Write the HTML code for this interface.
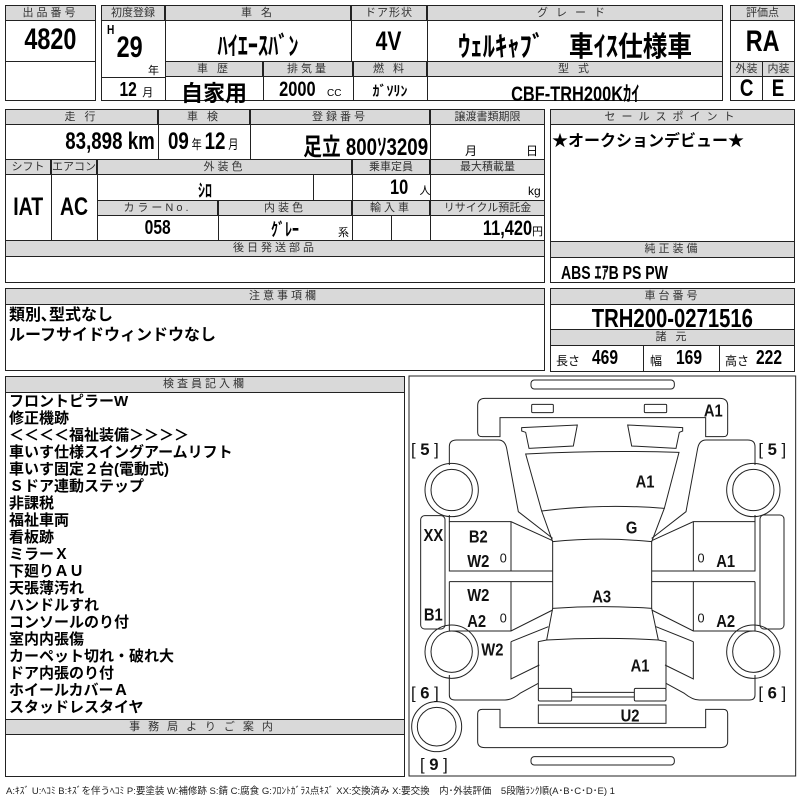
<!DOCTYPE html>
<html><head><meta charset="utf-8">
<style>
*{margin:0;padding:0;box-sizing:border-box}
body{width:800px;height:800px;background:#fff;position:relative;overflow:hidden;font-family:"Liberation Sans","Noto Sans CJK JP",sans-serif;color:#000}
.b{position:absolute;border:1px solid #222}
.h{position:absolute;background:#d9d9d9;border:1px solid #222;font-size:11px;text-align:center;line-height:14px;letter-spacing:3px;color:#333;font-family:"Liberation Sans","Noto Sans CJK JP",sans-serif}
.t{position:absolute;font-weight:bold;white-space:nowrap;text-align:center}
.n{display:inline-block;transform:scaleX(.78);transform-origin:center}
.r{transform-origin:right}
.l{transform-origin:left}
.j{font-family:"Liberation Sans","Noto Sans CJK JP",sans-serif}
.list{position:absolute;left:9px;top:393px;font-family:"Liberation Sans","Noto Sans CJK JP",sans-serif;font-weight:bold;font-size:15px;line-height:17px;white-space:nowrap}
</style></head><body>

<!-- Box A -->
<div class="b" style="left:5px;top:5px;width:91px;height:96px"></div>
<div class="h" style="left:5px;top:5px;width:91px;height:16px">出品番号</div>
<div class="b" style="left:5px;top:61px;width:91px;height:1px;border-width:1px 0 0 0"></div>
<div class="t" style="left:5px;top:23px;width:91px;font-size:30px"><span class="n">4820</span></div>

<!-- Box B -->
<div class="b" style="left:101px;top:5px;width:622px;height:96px"></div>
<div class="h" style="left:101px;top:5px;width:64px;height:16px;letter-spacing:0">初度登録</div>
<div class="h" style="left:165px;top:5px;width:186px;height:16px">車 名</div>
<div class="h" style="left:351px;top:5px;width:76px;height:16px;letter-spacing:1px">ドア形状</div>
<div class="h" style="left:427px;top:5px;width:296px;height:16px;letter-spacing:8px">グレード</div>
<div class="b" style="left:165px;top:20px;width:1px;height:81px;border-width:0 0 0 1px"></div>
<div class="b" style="left:351px;top:20px;width:1px;height:42px;border-width:0 0 0 1px"></div>
<div class="b" style="left:427px;top:20px;width:1px;height:81px;border-width:0 0 0 1px"></div>
<div class="b" style="left:101px;top:77px;width:64px;height:1px;border-width:1px 0 0 0"></div>
<div class="h" style="left:165px;top:61px;width:98px;height:16px">車 歴</div>
<div class="h" style="left:263px;top:61px;width:90px;height:16px">排気量</div>
<div class="h" style="left:353px;top:61px;width:74px;height:16px">燃 料</div>
<div class="h" style="left:427px;top:61px;width:296px;height:16px">型 式</div>
<div class="b" style="left:263px;top:77px;width:1px;height:24px;border-width:0 0 0 1px"></div>
<div class="b" style="left:353px;top:77px;width:1px;height:24px;border-width:0 0 0 1px"></div>
<div class="t" style="left:106px;top:22px;font-size:13px"><span class="n">H</span></div>
<div class="t" style="left:113px;top:31px;font-size:30px"><span class="n">29</span></div>
<div class="t j" style="left:148px;top:62px;font-size:11px;font-weight:normal">年</div>
<div class="t" style="left:117px;top:79px;font-size:20px"><span class="n">12</span><span class="j" style="font-size:11px;font-weight:normal"> 月</span></div>
<div class="t j" style="left:165px;top:26px;width:186px;font-size:26px"><span class="n">ﾊｲｴｰｽﾊﾞﾝ</span></div>
<div class="t" style="left:351px;top:26px;width:76px;font-size:27px"><span class="n">4V</span></div>
<div class="t j" style="left:427px;top:25px;width:296px;font-size:28px"><span class="n" style="transform:scaleX(.88)">ｳｪﾙｷｬﾌﾞ　車ｲｽ仕様車</span></div>
<div class="t j" style="left:165px;top:76px;width:98px;font-size:22px">自家用</div>
<div class="t" style="left:263px;top:78px;width:90px;font-size:21px"><span class="n">2000</span> <span style="font-size:10px;font-weight:normal">CC</span></div>
<div class="t j" style="left:353px;top:81px;width:74px;font-size:14px">ｶﾞｿﾘﾝ</div>
<div class="t j" style="left:427px;top:78px;width:296px;font-size:21px"><span class="n">CBF-TRH200Kｶｲ</span></div>

<!-- Box C -->
<div class="b" style="left:730px;top:5px;width:65px;height:96px"></div>
<div class="h" style="left:730px;top:5px;width:65px;height:16px;letter-spacing:0">評価点</div>
<div class="t" style="left:730px;top:25px;width:65px;font-size:30px"><span class="n">RA</span></div>
<div class="h" style="left:730px;top:61px;width:33px;height:16px;letter-spacing:0">外装</div>
<div class="h" style="left:762px;top:61px;width:33px;height:16px;letter-spacing:0">内装</div>
<div class="b" style="left:762px;top:77px;width:1px;height:24px;border-width:0 0 0 1px"></div>
<div class="t" style="left:730px;top:75px;width:33px;font-size:24px"><span class="n">C</span></div>
<div class="t" style="left:762px;top:75px;width:33px;font-size:24px"><span class="n">E</span></div>

<!-- Section 2 -->
<div class="b" style="left:5px;top:109px;width:540px;height:174px"></div>
<div class="h" style="left:5px;top:109px;width:153px;height:16px">走 行</div>
<div class="h" style="left:158px;top:109px;width:92px;height:16px">車 検</div>
<div class="h" style="left:250px;top:109px;width:180px;height:16px">登録番号</div>
<div class="h" style="left:430px;top:109px;width:115px;height:16px;letter-spacing:0">譲渡書類期限</div>
<div class="b" style="left:158px;top:125px;width:1px;height:35px;border-width:0 0 0 1px"></div>
<div class="b" style="left:250px;top:125px;width:1px;height:35px;border-width:0 0 0 1px"></div>
<div class="b" style="left:430px;top:125px;width:1px;height:35px;border-width:0 0 0 1px"></div>
<div class="t" style="left:5px;top:128px;width:150px;text-align:right;font-size:24px"><span class="n r">83,898 km</span></div>
<div class="t" style="left:168px;top:128px;font-size:24px"><span class="n l">09<span class="j" style="font-size:13px;font-weight:normal"> 年 </span>12<span class="j" style="font-size:13px;font-weight:normal"> 月</span></span></div>
<div class="t j" style="left:250px;top:127px;width:178px;text-align:right;font-size:24px"><span class="n r">足立 800ｿ3209</span></div>
<div class="t j" style="left:465px;top:142px;font-size:12px;font-weight:normal">月</div>
<div class="t j" style="left:526px;top:142px;font-size:12px;font-weight:normal">日</div>

<div class="h" style="left:5px;top:159px;width:46px;height:16px;letter-spacing:0">シフト</div>
<div class="h" style="left:51px;top:159px;width:46px;height:16px;letter-spacing:0">エアコン</div>
<div class="h" style="left:97px;top:159px;width:255px;height:16px">外装色</div>
<div class="h" style="left:352px;top:159px;width:78px;height:16px;letter-spacing:0">乗車定員</div>
<div class="h" style="left:430px;top:159px;width:115px;height:16px;letter-spacing:0">最大積載量</div>
<div class="b" style="left:51px;top:175px;width:1px;height:66px;border-width:0 0 0 1px"></div>
<div class="b" style="left:97px;top:175px;width:1px;height:66px;border-width:0 0 0 1px"></div>
<div class="b" style="left:313px;top:175px;width:1px;height:25px;border-width:0 0 0 1px"></div>
<div class="b" style="left:352px;top:175px;width:1px;height:66px;border-width:0 0 0 1px"></div>
<div class="b" style="left:430px;top:175px;width:1px;height:66px;border-width:0 0 0 1px"></div>
<div class="b" style="left:391px;top:215px;width:1px;height:26px;border-width:0 0 0 1px"></div>
<div class="t" style="left:5px;top:193px;width:46px;font-size:25px"><span class="n">IAT</span></div>
<div class="t" style="left:51px;top:193px;width:46px;font-size:25px"><span class="n">AC</span></div>
<div class="t j" style="left:97px;top:177px;width:216px;font-size:18px"><span class="n">ｼﾛ</span></div>
<div class="t" style="left:390px;top:176px;font-size:21px"><span class="n l">10</span><span class="j" style="font-size:11px;font-weight:normal">&nbsp;&nbsp;人</span></div>
<div class="t" style="left:528px;top:184px;font-size:12px;font-weight:normal">kg</div>
<div class="h" style="left:97px;top:200px;width:121px;height:16px">カラーNo.</div>
<div class="h" style="left:218px;top:200px;width:134px;height:16px">内装色</div>
<div class="h" style="left:352px;top:200px;width:78px;height:16px">輸入車</div>
<div class="h" style="left:430px;top:200px;width:115px;height:16px;letter-spacing:0">リサイクル預託金</div>
<div class="b" style="left:218px;top:215px;width:1px;height:26px;border-width:0 0 0 1px"></div>
<div class="t" style="left:97px;top:217px;width:121px;font-size:20px"><span class="n">058</span></div>
<div class="t j" style="left:218px;top:216px;width:134px;font-size:18px"><span class="n">ｸﾞﾚｰ</span></div>
<div class="t j" style="left:338px;top:224px;font-size:11px;font-weight:normal">系</div>
<div class="t" style="left:430px;top:217px;width:113px;text-align:right;font-size:21px"><span class="n r">11,420</span><span class="j" style="font-size:11px;font-weight:normal">円</span></div>
<div class="h" style="left:5px;top:240px;width:540px;height:17px">後日発送部品</div>

<!-- Right side -->
<div class="b" style="left:550px;top:109px;width:245px;height:174px"></div>
<div class="h" style="left:550px;top:109px;width:245px;height:16px;letter-spacing:6px">セールスポイント</div>
<div class="t j" style="left:552px;top:127px;font-size:16px;text-align:left">★オークションデビュー★</div>
<div class="h" style="left:550px;top:241px;width:245px;height:17px">純正装備</div>
<div class="t j" style="left:561px;top:259px;font-size:18px;text-align:left"><span class="n l">ABS ｴｱB PS PW</span></div>

<div class="b" style="left:550px;top:288px;width:245px;height:84px"></div>
<div class="h" style="left:550px;top:288px;width:245px;height:17px">車台番号</div>
<div class="t" style="left:550px;top:303px;width:245px;font-size:26px"><span class="n">TRH200-0271516</span></div>
<div class="h" style="left:550px;top:329px;width:245px;height:17px">諸 元</div>
<div class="b" style="left:643px;top:345px;width:1px;height:27px;border-width:0 0 0 1px"></div>
<div class="b" style="left:719px;top:345px;width:1px;height:27px;border-width:0 0 0 1px"></div>
<div class="t j" style="left:556px;top:352px;font-size:12px;font-weight:normal">長さ</div>
<div class="t" style="left:592px;top:347px;font-size:20px"><span class="n l">469</span></div>
<div class="t j" style="left:650px;top:352px;font-size:12px;font-weight:normal">幅</div>
<div class="t" style="left:676px;top:347px;font-size:20px"><span class="n l">169</span></div>
<div class="t j" style="left:725px;top:352px;font-size:12px;font-weight:normal">高さ</div>
<div class="t" style="left:756px;top:347px;font-size:20px"><span class="n l">222</span></div>

<!-- 注意事項欄 -->
<div class="b" style="left:5px;top:288px;width:540px;height:83px"></div>
<div class="h" style="left:5px;top:288px;width:540px;height:17px;text-align:right;padding-right:225px">注意事項欄</div>
<div class="t j" style="left:9px;top:306px;font-size:16px;text-align:left;line-height:20px">類別､型式なし<br>ルーフサイドウィンドウなし</div>

<!-- 検査員記入欄 -->
<div class="b" style="left:5px;top:376px;width:400px;height:401px"></div>
<div class="h" style="left:5px;top:376px;width:400px;height:17px">検査員記入欄</div>
<div class="list">フロントピラーW<br>修正機跡<br>＜＜＜＜福祉装備＞＞＞＞<br>車いす仕様スイングアームリフト<br>車いす固定２台(電動式)<br>Ｓドア連動ステップ<br>非課税<br>福祉車両<br>看板跡<br>ミラーＸ<br>下廻りＡＵ<br>天張薄汚れ<br>ハンドルすれ<br>コンソールのり付<br>室内内張傷<br>カーペット切れ・破れ大<br>ドア内張のり付<br>ホイールカバーＡ<br>スタッドレスタイヤ</div>
<div class="h" style="left:5px;top:719px;width:400px;height:16px;letter-spacing:8px">事務局よりご案内</div>

<!-- Diagram -->
<svg style="position:absolute;left:405px;top:375px" width="395" height="420" viewBox="0 0 1185 1260">
<g fill="none" stroke="#222" stroke-width="3">
<rect x="12" y="3" width="1160" height="1200" stroke-width="3"/>
<rect x="378" y="15" width="430" height="27" rx="10"/>
<path d="M285,185 L285,128 L902,128 L902,185 L955,185 Q968,185 968,172 L968,92 Q968,70 945,70 L240,70 Q218,70 218,92 L218,172 Q218,185 232,185 Z"/>
<rect x="380" y="88" width="65" height="25" rx="3"/>
<rect x="718" y="88" width="67" height="25" rx="3"/>
<path d="M350,158 L517,150 L505,213 L372,220 L362,172 L350,168 Z"/>
<path d="M833,158 L668,150 L680,213 L813,220 L823,172 L833,168 Z"/>
<path d="M362,237 Q592,225 822,232 L778,400 Q592,385 410,408 Z"/>
<path d="M410,408 L443,500 Q592,485 740,500 L778,400"/>
<path d="M443,500 L443,700 Q592,690 740,700 L740,500"/>
<path d="M443,700 L425,795 Q592,785 760,795 L740,700"/>
<path d="M425,795 L400,800 L400,940 M760,795 L783,800 L783,940"/>
<path d="M133,270 L133,215 Q133,195 155,195 L280,195 Q300,195 305,220 L340,410 L443,490"/>
<path d="M133,420 L133,440 L318,440 L443,497"/>
<path d="M318,440 L318,588 M133,440 L133,588 L443,588 M133,620 L443,620 M133,620 L133,768 L318,768 L443,705 M318,620 L318,768"/>
<path d="M1050,270 L1050,215 Q1050,195 1028,195 L903,195 Q883,195 878,220 L843,410 L740,490"/>
<path d="M1050,420 L1050,440 L865,440 L740,497"/>
<path d="M865,440 L865,588 M1050,440 L1050,588 L740,588 M1050,620 L740,620 M1050,620 L1050,768 L865,768 L740,705 M865,620 L865,768"/>
<path d="M318,800 L430,755 M318,800 L318,912 L403,870"/>
<path d="M865,800 L753,755 M865,800 L865,912 L780,870"/>
<path d="M133,900 L133,960 Q133,975 150,975 L300,975 Q320,975 345,955 L400,925"/>
<path d="M1050,900 L1050,960 Q1050,975 1033,975 L883,975 Q863,975 838,955 L783,925"/>
<circle cx="140" cy="345" r="80"/><circle cx="140" cy="345" r="62"/>
<circle cx="1045" cy="345" r="80"/><circle cx="1045" cy="345" r="62"/>
<circle cx="140" cy="830" r="80"/><circle cx="140" cy="830" r="62"/>
<circle cx="1045" cy="830" r="80"/><circle cx="1045" cy="830" r="62"/>
<circle cx="95" cy="1055" r="75"/><circle cx="95" cy="1055" r="58"/>
<rect x="47" y="422" width="73" height="340" rx="12"/>
<rect x="1065" y="420" width="72" height="342" rx="12"/>
<rect x="400" y="940" width="100" height="38" rx="4"/>
<rect x="688" y="940" width="95" height="38" rx="4"/>
<path d="M500,952 L688,952 M500,966 L688,966"/>
<rect x="400" y="990" width="383" height="55"/>
<path d="M285,1003 L285,1058 L902,1058 L902,1003 L955,1003 Q968,1003 968,1016 L968,1100 Q968,1118 945,1118 L240,1118 Q218,1118 218,1100 L218,1016 Q218,1003 232,1003 Z"/>
<rect x="378" y="1145" width="430" height="25" rx="10"/>
</g>
<g font-family="Liberation Sans, sans-serif" font-weight="bold" font-size="54" fill="#111" text-anchor="middle" textLength="0">
<text x="925" y="125" transform="translate(925 0) scale(.82 1) translate(-925 0)">A1</text>
<text x="720" y="338" transform="translate(720 0) scale(.82 1) translate(-720 0)">A1</text>
<text x="680" y="475" transform="translate(680 0) scale(.82 1) translate(-680 0)">G</text>
<text x="85" y="498" transform="translate(85 0) scale(.82 1) translate(-85 0)">XX</text>
<text x="220" y="503" transform="translate(220 0) scale(.82 1) translate(-220 0)">B2</text>
<text x="220" y="576" transform="translate(220 0) scale(.82 1) translate(-220 0)">W2</text>
<text x="962" y="576" transform="translate(962 0) scale(.82 1) translate(-962 0)">A1</text>
<text x="590" y="683" transform="translate(590 0) scale(.82 1) translate(-590 0)">A3</text>
<text x="220" y="678" transform="translate(220 0) scale(.82 1) translate(-220 0)">W2</text>
<text x="85" y="736" transform="translate(85 0) scale(.82 1) translate(-85 0)">B1</text>
<text x="215" y="756" transform="translate(215 0) scale(.82 1) translate(-215 0)">A2</text>
<text x="962" y="756" transform="translate(962 0) scale(.82 1) translate(-962 0)">A2</text>
<text x="262" y="841" transform="translate(262 0) scale(.82 1) translate(-262 0)">W2</text>
<text x="705" y="890" transform="translate(705 0) scale(.82 1) translate(-705 0)">A1</text>
<text x="675" y="1040" transform="translate(675 0) scale(.82 1) translate(-675 0)">U2</text>
</g>
<g font-family="Liberation Sans, sans-serif" font-size="38" fill="#111" text-anchor="middle">
<text x="295" y="563">0</text><text x="888" y="563">0</text>
<text x="295" y="743">0</text><text x="888" y="743">0</text>
</g>
<g font-family="Liberation Sans, sans-serif" font-size="50" fill="#111">
<text x="18" y="240">[ <tspan font-weight="bold">5</tspan> ]</text>
<text x="1060" y="240">[ <tspan font-weight="bold">5</tspan> ]</text>
<text x="18" y="970">[ <tspan font-weight="bold">6</tspan> ]</text>
<text x="1060" y="970">[ <tspan font-weight="bold">6</tspan> ]</text>
<text x="45" y="1185">[ <tspan font-weight="bold">9</tspan> ]</text>
</g>
</svg>

<div style="position:absolute;left:6px;top:783px;font-size:9.5px;white-space:nowrap;color:#222;font-family:'Liberation Sans','Noto Sans CJK JP',sans-serif">A:ｷｽﾞ U:ﾍｺﾐ B:ｷｽﾞを伴うﾍｺﾐ P:要塗装 W:補修跡 S:錆 C:腐食 G:ﾌﾛﾝﾄｶﾞﾗｽ点ｷｽﾞ XX:交換済み X:要交換　内･外装評価　5段階ﾗﾝｸ順(A･B･C･D･E) 1</div>
</body></html>
